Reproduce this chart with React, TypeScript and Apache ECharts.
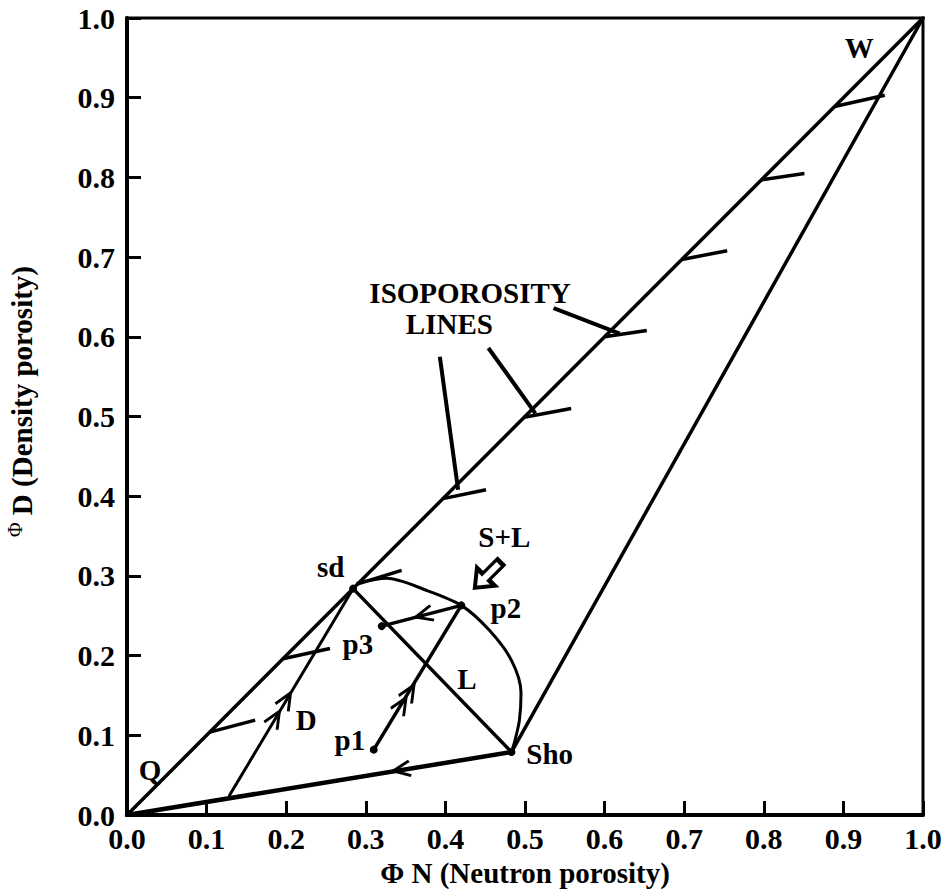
import React, { useEffect, useRef } from "react";
import * as echarts from "echarts";

const FONT = '"Liberation Serif", "Times New Roman", Times, serif';

// axes
const axisMin = 0;
const axisMax = 1;
const axisStep = 0.1;

// key points [ΦN, ΦD]
const pointQ = [0.0, 0.0];
const pointW = [1.0, 1.0];
const pointSd = [0.284, 0.284];
const pointSho = [0.483, 0.079];
const pointD0 = [0.129, 0.025];
const pointP1 = [0.31, 0.082];
const pointP2 = [0.42, 0.263];
const pointP3 = [0.32, 0.237];

// curved boundary sd -> p2 -> Sho
const arcX = [0.29, 0.326, 0.376, 0.42, 0.455, 0.483, 0.495, 0.493, 0.487, 0.483];
const arcY = [0.291, 0.297, 0.282, 0.263, 0.232, 0.194, 0.153, 0.119, 0.092, 0.079];

// isoporosity line ticks
const isoStartX = [0.104, 0.196, 0.29, 0.397, 0.499, 0.6, 0.697, 0.797, 0.889];
const isoStartY = [0.104, 0.196, 0.29, 0.397, 0.499, 0.6, 0.697, 0.797, 0.889];
const isoEndX = [0.161, 0.255, 0.345, 0.451, 0.558, 0.653, 0.754, 0.851, 0.952];
const isoEndY = [0.119, 0.209, 0.307, 0.408, 0.51, 0.608, 0.708, 0.805, 0.903];

// pointer lines from the "ISOPOROSITY LINES" label
const pointerFromX = [0.393, 0.454, 0.536];
const pointerFromY = [0.575, 0.586, 0.636];
const pointerToX = [0.416, 0.513, 0.619];
const pointerToY = [0.408, 0.504, 0.604];

// direction chevrons
const chevronX = [0.186, 0.2, 0.345, 0.355, 0.373, 0.345];
const chevronY = [0.121, 0.144, 0.138, 0.154, 0.251, 0.057];
const chevronFrom = [pointD0, pointD0, pointP1, pointP1, pointP2, pointSho];
const chevronTo = [pointSd, pointSd, pointP2, pointP2, pointP3, pointQ];

// hollow arrow near S+L
const hollowArrowPos = [0.453, 0.301];

// text labels
const labelNames = ["W", "sd", "S+L", "p2", "p3", "L", "D", "p1", "Sho", "Q", "ISOPOROSITY", "LINES"];
const labelX = [0.92, 0.256, 0.474, 0.476, 0.29, 0.427, 0.225, 0.28, 0.531, 0.029, 0.431, 0.405];
const labelY = [0.962, 0.311, 0.349, 0.26, 0.215, 0.171, 0.119, 0.094, 0.077, 0.056, 0.655, 0.616];

function seg(name: string, data: number[][], width: number, smooth: number | boolean = false) {
  return {
    type: "line",
    name,
    data,
    symbol: "none",
    showSymbol: false,
    smooth,
    silent: true,
    lineStyle: { color: "#000", width, cap: "round", opacity: 1 },
    z: 3,
  };
}

export default function App() {
  const ref = useRef<HTMLDivElement>(null);
  useEffect(() => {
    if (!ref.current) return;
    const chart = echarts.init(ref.current, undefined, { renderer: "svg" });

    const chevronData = chevronX.map((x, i) => {
      const f = chevronFrom[i];
      const t = chevronTo[i];
      const ang = (Math.atan2(t[1] - f[1], t[0] - f[0]) * 180) / Math.PI;
      return { value: [x, chevronY[i]], symbolRotate: ang - 180 };
    });

    const axisCommon = {
      type: "value",
      min: axisMin,
      max: axisMax,
      interval: axisStep,
      splitLine: { show: false },
      axisLine: { show: true, lineStyle: { color: "#000", width: 4 } },
      axisTick: { show: true, inside: true, length: 14, lineStyle: { color: "#000", width: 3 } },
      axisLabel: {
        color: "#000",
        fontFamily: FONT,
        fontWeight: "bold",
        fontSize: 30,
        formatter: (v: number) => v.toFixed(1),
      },
    };

    chart.setOption({
      animation: false,
      backgroundColor: "#fff",
      grid: {
        left: 127,
        right: 25,
        top: 18,
        bottom: 74,
        show: true,
        borderColor: "#000",
        borderWidth: 3,
        containLabel: false,
        outerBoundsMode: "none",
      },
      xAxis: {
        ...axisCommon,
        axisLabel: { ...axisCommon.axisLabel, margin: 8 },
        name: "Φ N (Neutron porosity)",
        nameLocation: "middle",
        nameGap: 43,
        nameTextStyle: { color: "#000", fontFamily: FONT, fontWeight: "bold", fontSize: 29 },
      },
      yAxis: {
        ...axisCommon,
        axisLabel: { ...axisCommon.axisLabel, margin: 12 },
        name: "{phi|Φ}{d| D (Density porosity)}",
        nameLocation: "middle",
        nameRotate: 90,
        nameGap: 88,
        nameTextStyle: {
          color: "#000",
          fontFamily: FONT,
          padding: [0, 0, 0, 30],
          rich: {
            phi: { fontFamily: FONT, fontSize: 20, color: "#000", verticalAlign: "top", lineHeight: 34 },
            d: { fontFamily: FONT, fontSize: 29, color: "#000", fontWeight: "bold", lineHeight: 34 },
          },
        },
      },
      series: [
        seg("Q-W", [pointQ, pointW], 3.5),
        seg("Sho-W", [pointSho, pointW], 3.5),
        seg("Q-Sho", [pointQ, pointSho], 4.5),
        seg("sd-Sho", [pointSd, pointSho], 3.5),
        seg("D", [pointD0, pointSd], 3),
        seg("p1-p2", [pointP1, pointP2], 3.5),
        seg("p2-p3", [pointP2, pointP3], 3.5),
        seg("arc", arcX.map((x, i) => [x, arcY[i]]), 3, 0.3),
        {
          type: "lines",
          name: "isoporosity",
          coordinateSystem: "cartesian2d",
          silent: true,
          lineStyle: { color: "#000", width: 3.5, opacity: 1, curveness: 0 },
          data: isoStartX.map((x, i) => ({ coords: [[x, isoStartY[i]], [isoEndX[i], isoEndY[i]]] })),
          z: 3,
        },
        {
          type: "lines",
          name: "pointers",
          coordinateSystem: "cartesian2d",
          silent: true,
          lineStyle: { color: "#000", width: 4, opacity: 1, curveness: 0 },
          data: pointerFromX.map((x, i) => ({ coords: [[x, pointerFromY[i]], [pointerToX[i], pointerToY[i]]] })),
          z: 3,
        },
        {
          type: "scatter",
          name: "chevrons",
          silent: true,
          symbol: "path://M14,0 L0,6 L14,12",
          symbolSize: [17, 15],
          itemStyle: { color: "rgba(0,0,0,0)", borderColor: "#000", borderWidth: 3, opacity: 1 },
          data: chevronData,
          z: 4,
        },
        {
          type: "scatter",
          name: "dots",
          silent: true,
          symbol: "circle",
          symbolSize: 8,
          itemStyle: { color: "#000", opacity: 1 },
          data: [pointP1, pointP2, pointP3, pointSd, pointSho],
          z: 5,
        },
        {
          type: "scatter",
          name: "hollow arrow",
          silent: true,
          symbol: "path://M0,7 L16,7 L16,0 L28,11 L16,22 L16,15 L0,15 Z",
          symbolSize: [36, 25],
          symbolRotate: 225,
          itemStyle: { color: "#fff", borderColor: "#000", borderWidth: 4, opacity: 1 },
          data: [hollowArrowPos],
          z: 5,
        },
        {
          type: "scatter",
          name: "labels",
          silent: true,
          symbolSize: 0,
          itemStyle: { color: "#000", opacity: 1 },
          label: {
            show: true,
            position: "inside",
            formatter: "{b}",
            color: "#000",
            opacity: 1,
            fontFamily: FONT,
            fontWeight: "bold",
            fontSize: 29,
            align: "center",
            verticalAlign: "middle",
          },
          data: labelNames.map((n, i) => ({ name: n, value: [labelX[i], labelY[i]] })),
          z: 6,
        },
      ],
    });
    return () => chart.dispose();
  }, []);
  return (
    <div
      ref={ref}
      style={{ position: "absolute", left: 0, top: 0, width: 948, height: 889, background: "#fff" }}
    />
  );
}
